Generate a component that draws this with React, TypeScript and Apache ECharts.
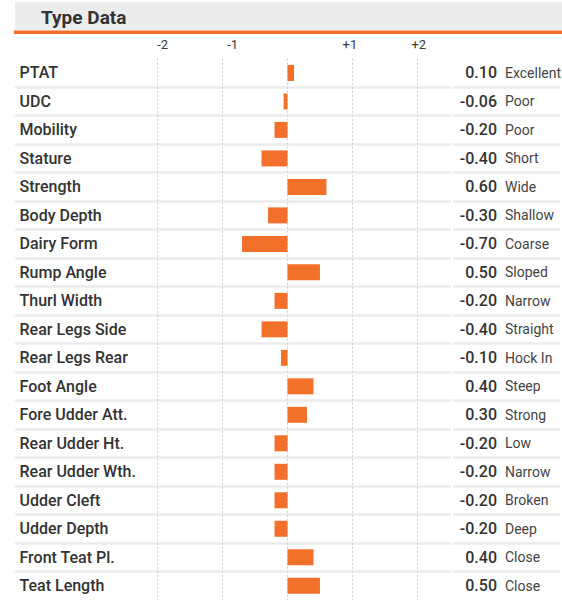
import React, { useEffect, useRef } from "react";
import * as echarts from "echarts";

const categories = [
  "PTAT", "UDC", "Mobility", "Stature", "Strength", "Body Depth", "Dairy Form",
  "Rump Angle", "Thurl Width", "Rear Legs Side", "Rear Legs Rear", "Foot Angle",
  "Fore Udder Att.", "Rear Udder Ht.", "Rear Udder Wth.", "Udder Cleft",
  "Udder Depth", "Front Teat Pl.", "Teat Length",
];
const values = [
  0.1, -0.06, -0.2, -0.4, 0.6, -0.3, -0.7, 0.5, -0.2, -0.4, -0.1, 0.4, 0.3,
  -0.2, -0.2, -0.2, -0.2, 0.4, 0.5,
];
const descriptors = [
  "Excellent", "Poor", "Poor", "Short", "Wide", "Shallow", "Coarse", "Sloped",
  "Narrow", "Straight", "Hock In", "Steep", "Strong", "Low", "Narrow", "Broken",
  "Deep", "Close", "Close",
];
const tickValues = [-2, -1, 0, 1, 2];
const tickLabels = ["-2", "-1", "", "+1", "+2"];
const title = "Type Data";

const ORANGE = "#f3702a";
const FONT = "Roboto, 'Liberation Sans', sans-serif";
const TOP = 58.7;
const H = 544.4;

export default function App() {
  const ref = useRef<HTMLDivElement>(null);
  useEffect(() => {
    if (!ref.current) return;
    const chart = echarts.init(ref.current, null, { renderer: "svg" });
    const sepSplit = {
      show: true,
      showMinLine: false,
      showMaxLine: false,
      lineStyle: { color: "#ebebeb", width: 2.5 },
    };
    const tickStyleKeys = ["m2", "m1", "z", "p1", "p2"];
    const pads = [
      [0, 0, 0, 10],
      [0, 0, 0, 20],
      [0, 0, 0, 0],
      [0, 5, 0, 0],
      [0, 0, 0, 3],
    ];
    const tickRich: any = {};
    tickStyleKeys.forEach((k, i) => {
      tickRich[k] = { padding: pads[i], fontSize: 13, color: "#3a3a3a", fontFamily: FONT };
    });
    const option: any = {
      animation: false,
      graphic: [
        { type: "rect", shape: { x: 15, y: 2, width: 547, height: 28.5 }, style: { fill: "#ececec" } },
        { type: "rect", shape: { x: 14, y: 30.5, width: 548, height: 3.5 }, style: { fill: ORANGE } },
        {
          type: "text",
          x: 41,
          y: 17,
          style: {
            text: title,
            fontSize: 19,
            fontWeight: "bold",
            fontFamily: FONT,
            fill: "#333",
            verticalAlign: "middle",
          },
        },
      ],
      grid: [
        { left: 15, width: 436, top: TOP, height: H },
        { left: 453, width: 109, top: TOP, height: H },
        { left: 157.7, width: 259.6, top: TOP, height: H },
      ],
      xAxis: [
        { type: "value", gridIndex: 0, show: false },
        { type: "value", gridIndex: 1, show: false },
        {
          type: "value",
          gridIndex: 2,
          position: "top",
          min: -2,
          max: 2,
          interval: 1,
          axisLine: { show: false },
          axisTick: { show: false },
          axisLabel: {
            margin: 8,
            formatter: (v: number) => {
              const i = tickValues.indexOf(v);
              if (i < 0 || !tickLabels[i]) return "";
              return `{${tickStyleKeys[i]}|${tickLabels[i]}}`;
            },
            rich: tickRich,
          },
          splitLine: {
            show: true,
            lineStyle: { color: "#cfcfcf", width: 1, type: [2, 2] },
          },
        },
      ],
      yAxis: [
        {
          type: "category",
          gridIndex: 0,
          data: categories,
          inverse: true,
          axisLine: { show: false },
          axisTick: { show: false },
          axisLabel: { show: false },
          splitLine: sepSplit,
        },
        {
          type: "category",
          gridIndex: 1,
          data: descriptors,
          inverse: true,
          position: "left",
          axisLine: { show: false },
          axisTick: { show: false },
          axisLabel: {
            show: true,
            align: "left",
            margin: -52,
            fontSize: 14,
            color: "#444",
            fontFamily: FONT,
            interval: 0,
            formatter: (_v: string, i: number) => descriptors[i],
          },
          splitLine: sepSplit,
        },
        {
          type: "category",
          gridIndex: 2,
          data: categories,
          inverse: true,
          position: "left",
          axisLine: { show: false },
          axisTick: { show: false },
          splitLine: { show: false },
          axisLabel: {
            align: "left",
            margin: 138.2,
            interval: 0,
            color: "#333",
            fontSize: 16,
            fontWeight: 500,
            fontFamily: FONT,
          },
        },
        {
          type: "category",
          gridIndex: 2,
          data: categories,
          inverse: true,
          position: "right",
          axisLine: { show: false },
          axisTick: { show: false },
          splitLine: { show: false },
          axisLabel: {
            align: "right",
            margin: 79.7,
            interval: 0,
            color: "#333",
            fontSize: 16,
            fontWeight: 500,
            fontFamily: FONT,
            formatter: (_v: string, i: number) => values[i].toFixed(2),
          },
        },
      ],
      series: [
        {
          type: "bar",
          xAxisIndex: 2,
          yAxisIndex: 2,
          data: values,
          barWidth: 16,
          itemStyle: { color: ORANGE },
        },
      ],
    };
    chart.setOption(option);
    return () => chart.dispose();
  }, []);
  return (
    <div
      ref={ref}
      style={{ position: "absolute", left: 0, top: 0, width: 562, height: 600 }}
    />
  );
}
